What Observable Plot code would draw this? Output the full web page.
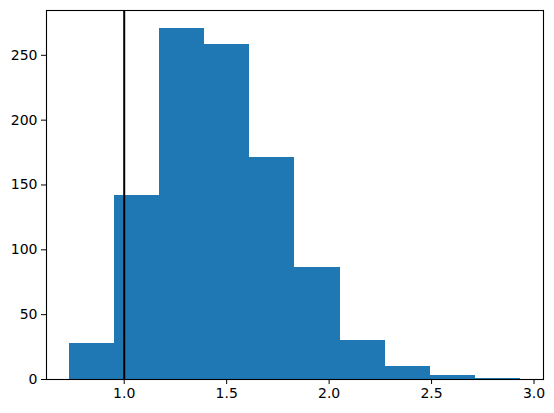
<!DOCTYPE html>
<html>
<head>
<meta charset="utf-8">
<script src="https://cdn.jsdelivr.net/npm/d3@7"></script>
<script src="https://cdn.jsdelivr.net/npm/@observablehq/plot@0.6"></script>
<style>
  html, body { margin: 0; padding: 0; background: #fff; }
</style>
</head>
<body>
<div id="chart"></div>
<script>
const binEdges = [0.731, 0.951, 1.172, 1.392, 1.613, 1.833, 2.054, 2.274, 2.495, 2.715, 2.936];
const counts = [28, 142, 271, 258, 171, 86, 30, 10, 3, 1];
const xTicks = [1.0, 1.5, 2.0, 2.5, 3.0];
const yTicks = [0, 50, 100, 150, 200, 250];
const refLine = [1.0];

const bins = counts.map((c, i) => ({x1: binEdges[i], x2: binEdges[i + 1], count: c}));

const span = binEdges[binEdges.length - 1] - binEdges[0];
const xDomain = [binEdges[0] - 0.05 * span, binEdges[binEdges.length - 1] + 0.05 * span];
const yDomain = [0, d3.max(counts) * 1.05];

const chart = Plot.plot({
  width: 554,
  height: 413,
  marginLeft: 46,
  marginRight: 11,
  marginTop: 10,
  marginBottom: 34,
  style: {fontFamily: "DejaVu Sans", fontSize: "14px", color: "black", background: "white"},
  x: {domain: xDomain, label: null},
  y: {domain: yDomain, label: null},
  marks: [
    Plot.rectY(bins, {x1: "x1", x2: "x2", y: "count", fill: "#1f77b4", inset: 0, shapeRendering: "crispEdges"}),
    Plot.ruleX(refLine, {stroke: "black", strokeWidth: 2}),
    Plot.axisX({ticks: xTicks, tickFormat: d3.format(".1f"), tickSize: 5, tickPadding: 4, fontSize: 14, stroke: "black", label: null}),
    Plot.axisY({ticks: yTicks, tickFormat: d3.format("d"), tickSize: 5, tickPadding: 4, fontSize: 14, stroke: "black", label: null}),
    Plot.frame({stroke: "black", strokeWidth: 1.1})
  ]
});
document.getElementById("chart").appendChild(chart);
</script>
</body>
</html>
